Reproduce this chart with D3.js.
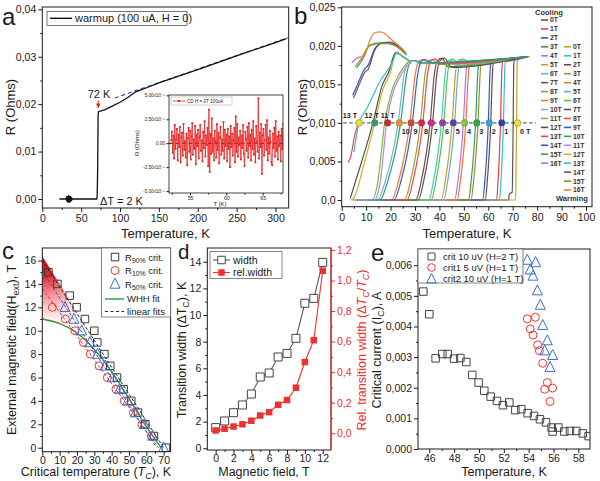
<!DOCTYPE html>
<html><head><meta charset="utf-8">
<script src="https://cdn.jsdelivr.net/npm/d3@7"></script>
<style>body{margin:0;background:#fff}</style>
</head><body>
<script>
// ================= DATA =================
// ---- Panel a : R(T) warm-up, H = 0 ----
const aCurve = [[22,0],[30,0],[31,0.0003],[31.3,-0.0004],[31.6,0.0005],[31.9,-0.0006],[32.2,0.0006],[32.5,-0.0007],[32.8,0.0007],[33.1,-0.0008],[33.4,0.0007],[33.7,-0.0006],[34,0.0008],[34.3,-0.0007],[34.6,0.0006],[34.9,-0.0008],[35.2,0.0007],[35.5,-0.0006],[35.8,0.0005],[36.1,-0.0007],[36.4,0.0006],[36.7,-0.0005],[37,0.0004],[37.3,-0.0004],[37.6,0.0003],[38,-0.0002],[39,0],[70,0],[70.6,0.0006],[71.2,0.006],[71.8,0.0176],[72.3,0.0184],[80,0.0188],[90,0.0196],[100,0.0204],[110,0.0214],[120,0.0226],[130,0.0232],[150,0.0245],[200,0.0273],[250,0.0302],[300,0.0330],[314,0.0338]];
const aFit = [[93,0.0213],[316,0.0340]];
// inset: R (x1e-5 Ohm), T from 52.4 K in 0.1 K steps
const insetT0 = 52.4, insetStep = 0.1;
const insetR = [0.3,1.2,-1.0,0.8,-1.6,1.9,-0.6,0.4,1.5,-1.8,
 0.9,-0.4,1.7,-2.0,0.6,1.1,-1.3,2.0,-0.7,0.2,
 -1.5,1.0,-2.3,0.5,1.6,-0.9,1.3,-1.7,0.7,2.1,
 -1.2,0.4,-0.6,1.8,-2.2,0.9,-0.3,1.4,-1.6,0.6,
 1.9,-0.8,0.3,-1.9,1.2,-0.5,2.3,-1.4,0.8,-0.2,
 1.6,-2.4,3.5,-3.0,1.0,-1.1,2.6,-0.9,0.5,-1.8,
 1.3,0.2,-1.5,2.0,-0.7,1.1,-2.1,0.6,1.7,-1.2,
 0.4,-0.8,2.2,-1.6,1.4,-0.3,0.9,-1.9,1.5,-0.6,
 0.7,-2.5,1.8,-0.4,1.0,-1.3,0.3,1.6,-2.0,2.8,
 -0.9,2.0,-1.4,0.6,-0.2,1.3,-1.7,0.8,-0.5,1.9,
 -1.1,-2.4,1.2,0.4,-0.8,1.7,-1.5,2.1,-0.3,0.9,
 -1.8,1.4,-0.6,2.3,-1.2,0.5,-2.0,1.8,0.2,-0.9,
 4.7,-1.6,1.1,-0.4,2.0,-3.2,0.8,1.5,-1.3,0.3,
 1.9,-0.7,2.4,-1.8,0.6,-1.1,1.3,0.1,-2.0,-2.3,
 1.0,-0.5,1.6,-1.4,2.3,-0.8,0.7,-1.7,1.2,-0.3,
 0.8,-1.9,1.5,-0.6,2.0];

// ---- Panel b : R(T) in fields, cooling / warming (R in mOhm) ----
const bFields = ["0T","1T","2T","3T","4T","5T","6T","7T","8T","9T","10T","11T","12T","13T","14T","15T","16T"];
const bCoolColors = ["#555555","#f03c3c","#2060c8","#30a060","#b870e0","#c8a028","#40c8d0","#7a4848","#98a040","#f07828","#78b0e0","#70c038","#505050","#f04050","#2058c8","#30a070","#b070d8"];
const bWarmColors = ["#d0a020","#30c0d0","#7a4040","#909030","#f07030","#68a8e0","#60c040","#555555","#f04848","#3060d0","#30a068","#c080e0","#d0b028","#38c0c8","#805050","#909020","#f08030"];
const bCool = [
 [[58,0],[68.3,0],[68.6,0.8],[69.8,1.0],[70.0,5],[70.2,10],[70.4,17.5],[70.8,18.3],[76.5,18.6]],
 [[53,0],[63.4,0],[64.0,2.5],[65.0,10],[65.5,16.5],[65.8,18.0],[70,18.1],[76,18.6]],
 [[47,0],[57.7,0],[58.6,2.5],[60.0,10],[60.7,16.5],[61.1,18.0],[66,18.0],[76,18.6]],
 [[42,0],[51.9,0],[53.0,2.5],[54.8,10],[55.7,16.5],[56.2,18.0],[62,17.9],[76,18.6]],
 [[36,0],[46.2,0],[47.6,2.5],[49.8,10],[50.9,16.5],[51.6,18.0],[58,17.8],[76,18.6]],
 [[30,0],[40.7,0],[42.4,2.5],[45.2,10],[46.6,16.5],[47.4,18.0],[48.5,18.2],[52,17.6],[76,18.6]],
 [[25,0],[35.6,0],[37.6,2.5],[40.8,10],[42.4,16.5],[43.4,18.0],[44.5,18.2],[47,17.4],[76,18.6]],
 [[20,0],[30.3,0],[32.6,2.5],[36.2,10],[38.0,16.5],[39.1,18.0],[41,18.4],[43.5,17.3],[76,18.6]],
 [[16,0],[25.7,0],[28.2,2.5],[32.2,10],[34.2,16.5],[35.4,18.0],[37,18.2],[40,17.6],[76,18.6]],
 [[10,0],[20.4,0],[23.3,2.5],[27.9,10],[30.2,16.5],[31.6,18.0],[33,18.2],[36,17.7],[76,18.6]],
 [[5,0],[14.6,0],[17.9,2.5],[23.1,10],[25.7,16.5],[27.3,18.0],[29,18.1],[32,17.7],[76,18.6]],
 [[4,0],[12.2,0],[14.7,2.2],[17.6,10],[20.5,14.2],[23.5,16.3],[26,17.5],[28,18.0]],
 [[3.5,0.2],[8,4.8],[12.8,10],[16.5,14.8],[19.5,16.8],[21.5,18.9],[22.5,19.2],[25,18.6],[27.5,18.1]],
 [[2.5,4.9],[3.5,5.4],[5.5,8.6],[6.5,9.6]],
 [[4.5,13.6],[6.5,15.0],[9,16.8],[11,17.6],[13.5,19.6],[16.5,20.4],[19.5,20.5],[23,20.0],[25.5,19.2]],
 [[6.1,17.1],[8.8,18.4],[11.5,20.1],[15.6,20.4],[19.7,20.3],[23.8,19.7],[26.6,18.8]],
 [[4.1,17.8],[6.2,18.4],[8,18.6]]
];
const bWarm = [
 [[60,0],[71.2,0],[71.4,5],[71.6,10],[71.8,17.8],[72.3,18.3],[77,18.6]],
 [[54,0],[64.6,0],[65.2,2.5],[66.2,10],[66.7,16.5],[67.0,18.0],[71,18.2],[76,18.6]],
 [[48,0],[58.7,0],[59.6,2.5],[61.0,10],[61.7,16.5],[62.1,18.0],[67,18.1],[76,18.6]],
 [[43,0],[52.9,0],[54.0,2.5],[55.8,10],[56.7,16.5],[57.2,18.0],[63,18.0],[76,18.6]],
 [[37,0],[47.2,0],[48.6,2.5],[50.8,10],[51.9,16.5],[52.6,18.0],[59,17.9],[76,18.6]],
 [[31,0],[41.7,0],[43.4,2.5],[46.2,10],[47.6,16.5],[48.4,18.0],[49.5,18.3],[53,17.7],[76,18.6]],
 [[26,0],[36.6,0],[38.6,2.5],[41.8,10],[43.4,16.5],[44.4,18.0],[45.5,18.3],[48,17.5],[76,18.6]],
 [[21,0],[31.3,0],[33.6,2.5],[37.2,10],[39.0,16.5],[40.1,18.0],[42,18.4],[45,17.2],[76,18.6]],
 [[17,0],[26.7,0],[29.2,2.5],[33.2,10],[35.2,16.5],[36.4,18.0],[38,18.3],[41,17.7],[76,18.6]],
 [[11,0],[21.4,0],[24.3,2.5],[28.9,10],[31.2,16.5],[32.6,18.0],[34,18.2],[37,17.8],[76,18.6]],
 [[6,0],[15.6,0],[18.9,2.5],[24.1,10],[26.7,16.5],[28.3,18.0],[30,18.1],[33,17.8],[76,18.6]],
 [[5,0],[13.2,0],[15.7,2.2],[18.4,10],[21,14],[23.9,16],[26.5,17.3],[28.6,17.8]],
 [[4,0],[5,0.3],[9,4.5],[13.5,10],[17,14.5],[19.8,16.4],[21.8,18.8],[22.8,19.1],[25.2,18.5],[28,18.0]],
 [[5.0,6.2],[7.1,10],[10.2,11.8],[15.7,15.4],[20.5,17.7],[22.5,19.0],[25.2,18.6],[28,18.0]],
 [[4.8,13.2],[6.8,14.7],[9.5,16.6],[10.9,17.0],[13.5,19.4],[16.3,20.3],[19.7,20.4],[23.1,19.9],[25.8,19.0]],
 [[5.5,17.3],[8,18.3],[11,19.9],[15,20.3],[19,20.3],[23,19.8],[26,19.0]],
 [[7.2,18.0],[9.5,18.8],[11.5,20.7],[13.5,21.7],[15.6,21.8],[17.6,21.6],[20.4,20.8],[23.1,20.1],[25.2,19.5],[26.5,19.0]]
];
// Tc markers at R = 0.010 Ohm, fields 0..13 T
const bMarkT = [72.0,65.5,60.4,55.3,50.3,45.7,41.3,36.7,32.7,28.4,23.6,18.8,13.5,7.1];
const bMarkColors = ["#f2e21e","#2840c0","#30a8e8","#30a848","#88c840","#5a3cc0","#9040b0","#e020a0","#e02050","#e04030","#f09020","#e02020","#30a060","#f2e21e"];
const bMarkLabels = ["0 T","1","2","3","4","5","6","7","8","9","10","11 T","12 T","13 T"];

// ---- Panel c : H vs Tc ----
const cR90 = [[3.5,15],[8.7,14],[15.8,13],[19.8,12],[24.6,11],[30.0,10],[31.7,9],[35.8,8],[39.2,7],[43.1,6],[46.9,5],[51.3,4],[55.2,3],[59.4,2],[64.4,1],[71.3,0]];
const cR10 = [[5.8,12],[13.3,11],[18.8,10],[23.7,9],[27.7,8],[32.7,7],[37.5,6],[42.5,5],[47.3,4],[52.5,3],[57.5,2],[62.9,1]];
const cR50 = [[13.1,12],[18.3,11],[22.7,10],[27.5,9],[31.9,8],[36.3,7],[40.2,6],[44.6,5],[49.2,4],[53.8,3],[58.8,2],[63.7,1],[70.0,0]];
const cWHH = [[0,11.0],[10,10.6],[20,9.8],[30,8.4],[40,6.5],[50,4.2],[60,1.8],[68.5,0]];
const cFitBlack = [[0,16.05],[70,0]];
const cFitBlue = [[0,15.1],[66,0]];
const cFitRed = [[0,13.6],[67,0]];

// ---- Panel d : transition width ----
const dField = [0,1,2,3,4,5,6,7,8,9,10,11,12];
const dWidth = [1.55,2.05,2.67,3.25,4.07,5.35,5.65,6.85,7.12,8.25,10.88,11.25,13.95];
const dRel = [0.018,0.029,0.044,0.059,0.081,0.116,0.138,0.186,0.217,0.298,0.466,0.609,1.064];

// ---- Panel e : critical current ----
const eCrit2T = [[45.52,0.00514],[46.0,0.0044],[46.51,0.00296],[47.05,0.0031],[47.48,0.0031],[47.99,0.00295],[48.5,0.00297],[48.98,0.00284],[49.46,0.00242],[49.97,0.00217],[50.43,0.0019],[50.94,0.00171],[51.45,0.00157],[51.93,0.00143],[52.44,0.00152],[52.93,0.00127],[53.41,0.0013],[53.92,0.00117],[54.43,0.00108],[54.91,0.00097],[55.4,0.00087],[55.85,0.0007],[55.93,0.00057],[56.39,0.0007],[56.87,0.00057],[57.33,0.00059],[57.84,0.00059],[58.35,0.00051],[58.83,0.00042]];
const eCrit1T5 = [[53.89,0.00425],[54.54,0.0043],[54.13,0.00392],[54.35,0.00372],[54.72,0.0034],[54.86,0.00321],[55.13,0.0028],[55.5,0.00217],[55.29,0.00195],[55.93,0.00199],[55.72,0.00155]];
const eCrit1T10 = [[53.89,0.00617],[54.56,0.00609],[54.13,0.00585],[54.35,0.00565],[54.7,0.00517],[54.94,0.0047],[55.13,0.00404],[55.5,0.00354],[55.29,0.00321],[55.93,0.00306],[55.72,0.00267]];

// ================= DRAWING =================
const svg = d3.select("body").append("svg").attr("width",600).attr("height",481)
  .attr("font-family","'Liberation Sans', Arial, Helvetica, sans-serif");
svg.append("rect").attr("width",600).attr("height",481).attr("fill","#fff");
const defs = svg.append("defs");
let clipN = 0;
const INK = "#1a1a1a";
const comma = f => d => d3.format(f)(d).replace(".",",");

function panel(c){
  const x = d3.scaleLinear().domain(c.xd).range([c.l,c.r]);
  const y = d3.scaleLinear().domain(c.yd).range([c.b,c.t]);
  const id = "clip"+(clipN++);
  defs.append("clipPath").attr("id",id).append("rect").attr("x",c.l).attr("y",c.t).attr("width",c.r-c.l).attr("height",c.b-c.t);
  const g = svg.append("g");
  const plot = g.append("g").attr("clip-path",`url(#${id})`);
  return {x,y,g,plot,c};
}
function styleAxis(sel, fs, color){
  sel.attr("font-family",null).attr("font-size",null);
  sel.select(".domain").remove();
  sel.selectAll("text").attr("font-size",fs).attr("fill",color||INK);
  sel.selectAll("line").attr("stroke",color||INK);
}
function axisX(P, ticks, fmt, minor, fs, pad, ts){
  const {g,x,c} = P;
  const a = g.append("g").attr("transform",`translate(0,${c.b})`)
    .call(d3.axisBottom(x).tickValues(ticks).tickFormat(fmt).tickSize(ts||4).tickPadding(pad===undefined?3:pad));
  styleAxis(a, fs||"10.5px");
  if (minor){ const m = g.append("g").attr("transform",`translate(0,${c.b})`).call(d3.axisBottom(x).tickValues(minor).tickFormat("").tickSize(ts?ts*0.6:2)); styleAxis(m, fs||"10.5px"); }
}
function axisY(P, ticks, fmt, minor, opt){
  opt = opt||{};
  const {g,c} = P; const y = opt.y||P.y;
  const xpos = opt.right ? c.r : c.l;
  const mk = () => opt.right ? d3.axisRight(y) : d3.axisLeft(y);
  const a = g.append("g").attr("transform",`translate(${xpos},0)`)
    .call(mk().tickValues(ticks).tickFormat(fmt).tickSize(opt.ts||4).tickPadding(opt.pad||2));
  styleAxis(a, opt.fs||"10.5px", opt.color);
  if (minor){ const m = g.append("g").attr("transform",`translate(${xpos},0)`).call(mk().tickValues(minor).tickFormat("").tickSize(2)); styleAxis(m, "10px", opt.color); }
}
function frame(P, sw){
  const c = P.c;
  P.g.append("rect").attr("x",c.l).attr("y",c.t).attr("width",c.r-c.l).attr("height",c.b-c.t)
    .attr("fill","none").attr("stroke",INK).attr("stroke-width",sw||1);
}
function rich(parent, x, y, parts, fs, opt){
  opt = opt||{};
  const t = parent.append("text").attr("x",x).attr("y",y).attr("font-size",fs)
    .attr("text-anchor",opt.anchor||"start").attr("fill",opt.color||INK);
  if (opt.rotate) t.attr("transform",`rotate(-90,${x},${y})`);
  let shift = 0;
  parts.forEach(p => {
    const ts = t.append("tspan").text(p.t);
    const target = p.sub ? fs*0.25 : 0;
    if (target-shift !== 0) ts.attr("dy", target-shift);
    shift = target;
    if (p.sub) ts.attr("font-size", fs*0.72);
    if (p.it) ts.attr("font-style","italic");
  });
  return t;
}
function letter(txt,x,y,fs){ svg.append("text").attr("x",x).attr("y",y).attr("font-size",fs||24).attr("fill",INK).text(txt); }
const sq = s => `M${-s/2},${-s/2}h${s}v${s}h${-s}Z`;
const tri = s => `M0,${-s*0.58}L${s/2},${s*0.42}L${-s/2},${s*0.42}Z`;

// ---------- Panel a ----------
{
  const P = panel({l:42.3,r:288.7,t:7,b:208,xd:[0,317],yd:[-0.0019,0.04049]});
  const {x,y,g,plot} = P;
  plot.append("path").datum(aFit).attr("fill","none").attr("stroke","#3b3bd0").attr("stroke-width",1.1)
    .attr("stroke-dasharray","4,3").attr("d",d3.line().x(d=>x(d[0])).y(d=>y(d[1])));
  plot.append("path").datum(aCurve).attr("fill","none").attr("stroke","#111").attr("stroke-width",1.3)
    .attr("d",d3.line().x(d=>x(d[0])).y(d=>y(d[1])));
  axisX(P, d3.range(0,301,50), d3.format("d"), d3.range(25,317,50));
  axisY(P, [0,0.01,0.02,0.03,0.04], comma(".2f"), [0.005,0.015,0.025,0.035]);
  frame(P);
  g.append("text").attr("x",165.5).attr("y",237.5).attr("text-anchor","middle").attr("font-size",13).attr("fill",INK).text("Temperature, K");
  g.append("text").attr("transform","translate(15,107) rotate(-90)").attr("text-anchor","middle").attr("font-size",13).attr("fill",INK).text("R (Ohms)");
  // legend
  g.append("rect").attr("x",47).attr("y",11.5).attr("width",140).attr("height",14).attr("fill","#fff").attr("stroke","#555").attr("stroke-width",0.8);
  g.append("line").attr("x1",50).attr("x2",72).attr("y1",18.3).attr("y2",18.3).attr("stroke","#111").attr("stroke-width",1.4);
  g.append("text").attr("x",75).attr("y",22.3).attr("font-size",11).attr("fill",INK).text("warmup (100 uA, H = 0)");
  // annotations
  g.append("text").attr("x",99).attr("y",98).attr("text-anchor","middle").attr("font-size",11).attr("fill",INK).text("72 K");
  const ax = x(72);
  g.append("line").attr("x1",ax).attr("x2",ax).attr("y1",100.5).attr("y2",104).attr("stroke","#e02020").attr("stroke-width",1);
  g.append("path").attr("d",`M${ax-2.2},103.5L${ax+2.2},103.5L${ax},108.5Z`).attr("fill","#e02020");
  g.append("text").attr("x",100).attr("y",205).attr("font-size",11).attr("fill",INK).text("ΔT = 2 K");

  // inset
  const I = panel({l:169,r:283,t:95,b:193,xd:[52.1,67.8],yd:[-5.2e-5,5.03e-5]});
  I.g.append("rect").attr("x",169).attr("y",95).attr("width",114).attr("height",98).attr("fill","#fff");
  I.g.node().appendChild(I.plot.node());
  I.plot.append("line").attr("x1",169).attr("x2",283).attr("y1",I.y(0)).attr("y2",I.y(0)).attr("stroke","#111").attr("stroke-width",1.1).attr("stroke-dasharray","4,2.5");
  const ins = insetR.map((v,i)=>[insetT0+i*insetStep, v*1e-5]);
  I.plot.append("path").datum(ins).attr("fill","none").attr("stroke","#e82020").attr("stroke-width",0.8)
    .attr("d",d3.line().x(d=>I.x(d[0])).y(d=>I.y(d[1])));
  I.plot.selectAll("rect.pt").data(ins).join("rect").attr("class","pt")
    .attr("x",d=>I.x(d[0])-0.9).attr("y",d=>I.y(d[1])-0.9).attr("width",1.8).attr("height",1.8).attr("fill","#e82020");
  axisX(I, [55,60,65], d3.format("d"), [52.5,57.5,62.5,67.5], "5.2px", 1, 2.5);
  const iyf = d => d===0 ? "0,00" : (d<0?"-":"")+(Math.abs(d)*1e5).toFixed(2).replace(".",",")+"x10⁻⁵";
  axisY(I, [-5e-5,-2.5e-5,0,2.5e-5,5e-5], iyf, null, {fs:"4.6px", ts:2.5, pad:1.5});
  frame(I, 0.8);
  I.g.append("text").attr("x",220).attr("y",205.5).attr("text-anchor","middle").attr("font-size",5.8).attr("fill",INK).text("T (K)");
  I.g.append("text").attr("transform","translate(139,143) rotate(-90)").attr("text-anchor","middle").attr("font-size",6).attr("fill",INK).text("R (Ohms)");
  I.g.append("rect").attr("x",171).attr("y",97).attr("width",61).attr("height",8).attr("fill","#fff").attr("stroke","#888").attr("stroke-width",0.4);
  I.g.append("line").attr("x1",173).attr("x2",185).attr("y1",101).attr("y2",101).attr("stroke","#e82020").attr("stroke-width",0.8);
  I.g.append("rect").attr("x",178).attr("y",100).attr("width",2).attr("height",2).attr("fill","#e82020");
  I.g.append("text").attr("x",187).attr("y",102.8).attr("font-size",4.6).attr("fill",INK).text("CD H = 0T 100uA");
}
letter("a",2,25);

// ---------- Panel b ----------
{
  const P = panel({l:341.7,r:592,t:7,b:206.7,xd:[0,102.45],yd:[-0.00087,0.02504]});
  const {x,y,g,plot} = P;
  const line = d3.line().x(d=>x(d[0])).y(d=>y(d[1]/1000)).curve(d3.curveMonotoneX);
  const curves = [];
  bCool.forEach((c,i)=>curves.push({pts:c,col:bCoolColors[i]}));
  bWarm.forEach((c,i)=>curves.push({pts:c,col:bWarmColors[i]}));
  plot.selectAll("path.cv").data(curves).join("path").attr("class","cv").attr("fill","none")
    .attr("stroke",d=>d.col).attr("stroke-width",1.2).attr("d",d=>line(d.pts));
  // dashed Tc line
  g.append("line").attr("x1",x(0.6)).attr("x2",x(79.5)).attr("y1",y(0.01)).attr("y2",y(0.01))
    .attr("stroke","#222").attr("stroke-width",0.9).attr("stroke-dasharray","3.5,2.5");
  g.selectAll("circle.mk").data(bMarkT).join("circle").attr("class","mk")
    .attr("cx",d=>x(d)).attr("cy",y(0.01)).attr("r",3.3)
    .attr("fill",(d,i)=>bMarkColors[i]).attr("stroke","#555").attr("stroke-width",0.4);
  const upOffsets = {11:0, 12:-3, 13:-9};
  bMarkLabels.forEach((lab,i)=>{
    const t = g.append("text").attr("font-size",7.2).attr("font-weight","bold").attr("fill","#222").text(lab);
    if (i>=11) t.attr("x",x(bMarkT[i])+upOffsets[i]).attr("y",y(0.01)-4.5).attr("text-anchor","middle");
    else t.attr("x",x(bMarkT[i])+2.5).attr("y",y(0.01)+11);
  });
  axisX(P, d3.range(0,101,10), d3.format("d"), d3.range(5,101,10));
  axisY(P, [0,0.005,0.01,0.015,0.02,0.025], d=>d===0?"0,0":comma(".3f")(d), [0.0025,0.0075,0.0125,0.0175,0.0225]);
  frame(P);
  g.append("text").attr("x",467).attr("y",237.5).attr("text-anchor","middle").attr("font-size",13).attr("fill",INK).text("Temperature, K");
  g.append("text").attr("transform","translate(307,107) rotate(-90)").attr("text-anchor","middle").attr("font-size",13).attr("fill",INK).text("R (Ohms)");
  // legend
  const L = g.append("g").attr("font-size",6.8).attr("font-weight","bold").attr("fill","#333");
  L.append("text").attr("x",535).attr("y",14.5).attr("font-size",7.5).text("Cooling");
  bFields.forEach((f,i)=>{
    const yy = 20 + i*8.95;
    L.append("line").attr("x1",541).attr("x2",548).attr("y1",yy).attr("y2",yy).attr("stroke",bCoolColors[i]).attr("stroke-width",1.6);
    L.append("text").attr("x",550).attr("y",yy+2.4).text(f);
  });
  bFields.forEach((f,i)=>{
    const yy = 20 + (i+3)*8.95;
    L.append("line").attr("x1",564).attr("x2",571).attr("y1",yy).attr("y2",yy).attr("stroke",bWarmColors[i]).attr("stroke-width",1.6);
    L.append("text").attr("x",573).attr("y",yy+2.4).text(f);
  });
  L.append("text").attr("x",556).attr("y",201).attr("font-size",7.5).text("Warming");
}
letter("b",294,24);

// ---------- Panel c ----------
{
  const P = panel({l:42.3,r:170.6,t:248,b:451.7,xd:[0,74],yd:[-0.34,17.07]});
  const {x,y,g,plot} = P;
  const grad = defs.append("radialGradient").attr("id","cgrad").attr("gradientUnits","userSpaceOnUse")
    .attr("cx",x(0)).attr("cy",y(16.8)).attr("r",85);
  grad.append("stop").attr("offset",0).attr("stop-color","#e00008").attr("stop-opacity",1);
  grad.append("stop").attr("offset",0.3).attr("stop-color","#e81820").attr("stop-opacity",0.95);
  grad.append("stop").attr("offset",0.6).attr("stop-color","#f06068").attr("stop-opacity",0.5);
  grad.append("stop").attr("offset",1).attr("stop-color","#ffffff").attr("stop-opacity",0);
  const poly = [[0,17.07],[0.3,16.3]].concat([[60,2.3]]).concat(cWHH.slice(0,7).reverse());
  plot.append("path").datum(poly).attr("fill","url(#cgrad)")
    .attr("d",d3.line().x(d=>x(d[0])).y(d=>y(d[1])).curve(d3.curveLinearClosed));
  const ln = d3.line().x(d=>x(d[0])).y(d=>y(d[1]));
  plot.append("path").datum(cWHH).attr("fill","none").attr("stroke","#2a9a3a").attr("stroke-width",1.4).attr("d",ln.curve(d3.curveMonotoneX));
  const ln2 = d3.line().x(d=>x(d[0])).y(d=>y(d[1]));
  plot.append("path").datum(cFitRed).attr("fill","none").attr("stroke","#e03030").attr("stroke-width",1).attr("stroke-dasharray","3,2").attr("d",ln2);
  plot.append("path").datum(cFitBlue).attr("fill","none").attr("stroke","#3050c8").attr("stroke-width",1).attr("stroke-dasharray","3,2").attr("d",ln2);
  plot.append("path").datum(cFitBlack).attr("fill","none").attr("stroke","#222").attr("stroke-width",1).attr("stroke-dasharray","3,2").attr("d",ln2);
  plot.selectAll("path.s90").data(cR90).join("path").attr("class","s90")
    .attr("transform",d=>`translate(${x(d[0])},${y(d[1])})`).attr("d",sq(7.5)).attr("fill","none").attr("stroke","#3a3a3a").attr("stroke-width",1);
  plot.selectAll("circle.s10").data(cR10).join("circle").attr("class","s10")
    .attr("cx",d=>x(d[0])).attr("cy",d=>y(d[1])).attr("r",4).attr("fill","none").attr("stroke","#ee3535").attr("stroke-width",1);
  plot.selectAll("path.s50").data(cR50).join("path").attr("class","s50")
    .attr("transform",d=>`translate(${x(d[0])},${y(d[1])})`).attr("d",tri(10)).attr("fill","none").attr("stroke","#3a6fd4").attr("stroke-width",1);
  axisX(P, d3.range(0,71,10), d3.format("d"), d3.range(5,75,10), "10.5px", 0.5);
  axisY(P, d3.range(0,17,2), d3.format("d"), d3.range(1,17,2));
  frame(P);
  rich(g, 96, 476, [{t:"Critical temperature ("},{t:"T",it:true},{t:"C",it:true,sub:true},{t:"), K"}], 12.5, {anchor:"middle"});
  rich(g, 16, 350, [{t:"External magnetic field(H"},{t:"ext",sub:true},{t:"), T"}], 12.5, {anchor:"middle",rotate:true});
  // legend
  const L = g.append("g");
  L.append("rect").attr("x",101.5).attr("y",248).attr("width",69.1).attr("height",69).attr("fill","#fff").attr("stroke","#666").attr("stroke-width",0.8);
  L.append("path").attr("transform","translate(115,257)").attr("d",sq(7.5)).attr("fill","none").attr("stroke","#3a3a3a");
  L.append("circle").attr("cx",115).attr("cy",270.5).attr("r",4).attr("fill","none").attr("stroke","#ee3535");
  L.append("path").attr("transform","translate(115,284)").attr("d",tri(10)).attr("fill","none").attr("stroke","#3a6fd4");
  rich(L,125,260.5,[{t:"R"},{t:"90%",sub:true},{t:" crit."}],9.5);
  rich(L,125,274,[{t:"R"},{t:"10%",sub:true},{t:" crit."}],9.5);
  rich(L,125,287.5,[{t:"R"},{t:"50%",sub:true},{t:" crit."}],9.5);
  L.append("line").attr("x1",105).attr("x2",124).attr("y1",299).attr("y2",299).attr("stroke","#2a9a3a").attr("stroke-width",1.4);
  L.append("text").attr("x",127).attr("y",302.3).attr("font-size",9.5).attr("fill",INK).text("WHH fit");
  L.append("line").attr("x1",105).attr("x2",124).attr("y1",311.5).attr("y2",311.5).attr("stroke","#222").attr("stroke-width",1.1).attr("stroke-dasharray","3,2.5");
  L.append("text").attr("x",127).attr("y",314.8).attr("font-size",9.5).attr("fill",INK).text("linear fits");
}
letter("c",2,259);

// ---------- Panel d ----------
{
  const P = panel({l:207.3,r:331,t:248,b:450,xd:[-0.94,12.93],yd:[-0.13,15.03]});
  const {x,y,g,plot} = P;
  const yR = d3.scaleLinear().domain([-0.11,1.213]).range([450,248]);
  const RED = "#ee3030";
  const wd = dField.map((f,i)=>[f,dWidth[i]]);
  const rd = dField.map((f,i)=>[f,dRel[i]]);
  plot.append("path").datum(wd).attr("fill","none").attr("stroke","#444").attr("stroke-width",1)
    .attr("d",d3.line().x(d=>x(d[0])).y(d=>y(d[1])));
  plot.append("path").datum(rd).attr("fill","none").attr("stroke",RED).attr("stroke-width",1.1)
    .attr("d",d3.line().x(d=>x(d[0])).y(d=>yR(d[1])));
  plot.selectAll("path.w").data(wd).join("path").attr("class","w")
    .attr("transform",d=>`translate(${x(d[0])},${y(d[1])})`).attr("d",sq(8)).attr("fill","#fff").attr("stroke","#444").attr("stroke-width",1);
  plot.selectAll("path.r").data(rd).join("path").attr("class","r")
    .attr("transform",d=>`translate(${x(d[0])},${yR(d[1])})`).attr("d",sq(6.5)).attr("fill",RED);
  axisX(P, d3.range(0,13,2), d3.format("d"), d3.range(1,13,2), "10.5px", 1);
  axisY(P, d3.range(0,15,2), d3.format("d"), d3.range(1,15,2));
  axisY(P, [0,0.2,0.4,0.6,0.8,1.0,1.2], comma(".1f"), [0.1,0.3,0.5,0.7,0.9,1.1], {right:true, y:yR, color:RED});
  frame(P);
  g.append("line").attr("x1",331).attr("x2",331).attr("y1",248).attr("y2",450).attr("stroke",RED).attr("stroke-width",1.2);
  g.append("text").attr("x",264).attr("y",476).attr("text-anchor","middle").attr("font-size",12.5).attr("fill",INK).text("Magnetic field, T");
  rich(g, 186, 350, [{t:"Transition width (ΔT"},{t:"C",sub:true},{t:"), K"}], 12.5, {anchor:"middle",rotate:true});
  rich(g, 366, 350, [{t:"Rel. transition width (Δ"},{t:"T",it:true},{t:"C",it:true,sub:true},{t:"/"},{t:"T",it:true},{t:"C",it:true,sub:true},{t:")"}], 12.5, {anchor:"middle",rotate:true,color:RED});
  const L = g.append("g");
  L.append("rect").attr("x",210).attr("y",251.5).attr("width",72).attr("height",27).attr("fill","#fff").attr("stroke","#666").attr("stroke-width",0.8);
  L.append("line").attr("x1",213).attr("x2",230).attr("y1",260).attr("y2",260).attr("stroke","#444");
  L.append("path").attr("transform","translate(221.5,260)").attr("d",sq(7.5)).attr("fill","#fff").attr("stroke","#444");
  L.append("line").attr("x1",213).attr("x2",230).attr("y1",272.5).attr("y2",272.5).attr("stroke",RED);
  L.append("path").attr("transform","translate(221.5,272.5)").attr("d",sq(6.5)).attr("fill",RED);
  L.append("text").attr("x",233).attr("y",263.8).attr("font-size",10.5).attr("fill",INK).text("width");
  L.append("text").attr("x",233).attr("y",276.3).attr("font-size",10.5).attr("fill",INK).text("rel.width");
}
letter("d",178,258.5,20.5);

// ---------- Panel e ----------
{
  const P = panel({l:418,r:590,t:249,b:449,xd:[45.09,58.94],yd:[0,0.00653]});
  const {x,y,g,plot} = P;
  plot.selectAll("path.q").data(eCrit2T).join("path").attr("class","q")
    .attr("transform",d=>`translate(${x(d[0])},${y(d[1])})`).attr("d",sq(7.5)).attr("fill","none").attr("stroke","#444").attr("stroke-width",1);
  plot.selectAll("circle.o").data(eCrit1T5).join("circle").attr("class","o")
    .attr("cx",d=>x(d[0])).attr("cy",d=>y(d[1])).attr("r",4).attr("fill","none").attr("stroke","#ee3535").attr("stroke-width",1);
  plot.selectAll("path.t").data(eCrit1T10).join("path").attr("class","t")
    .attr("transform",d=>`translate(${x(d[0])},${y(d[1])})`).attr("d",tri(10)).attr("fill","none").attr("stroke","#3a6fd4").attr("stroke-width",1);
  axisX(P, d3.range(46,59,2), d3.format("d"), d3.range(47,59,2), "10.5px", 1.5);
  axisY(P, [0,0.001,0.002,0.003,0.004,0.005,0.006], comma(".3f"), [0.0005,0.0015,0.0025,0.0035,0.0045,0.0055]);
  frame(P);
  g.append("text").attr("x",504).attr("y",476).attr("text-anchor","middle").attr("font-size",12.5).attr("fill",INK).text("Temperature, K");
  rich(g, 381, 350, [{t:"Critical current (I"},{t:"C",sub:true},{t:"), A"}], 12.5, {anchor:"middle",rotate:true});
  const L = g.append("g");
  L.append("rect").attr("x",418).attr("y",249).attr("width",105).attr("height",34).attr("fill","#fff").attr("stroke","#666").attr("stroke-width",0.8);
  L.append("path").attr("transform","translate(431.5,256.5)").attr("d",sq(7)).attr("fill","none").attr("stroke","#444");
  L.append("circle").attr("cx",431.5).attr("cy",267.5).attr("r",3.8).attr("fill","none").attr("stroke","#ee3535");
  L.append("path").attr("transform","translate(431.5,279)").attr("d",tri(9.5)).attr("fill","none").attr("stroke","#3a6fd4");
  L.append("text").attr("x",443).attr("y",259.8).attr("font-size",9.5).attr("fill",INK).text("crit 10 uV (H=2 T)");
  L.append("text").attr("x",443).attr("y",271).attr("font-size",9.5).attr("fill",INK).text("crit1 5 uV (H=1 T)");
  L.append("text").attr("x",443).attr("y",282.3).attr("font-size",9.5).attr("fill",INK).text("crit2 10 uV (H=1 T)");
}
letter("e",371,261);
</script>
</body></html>
